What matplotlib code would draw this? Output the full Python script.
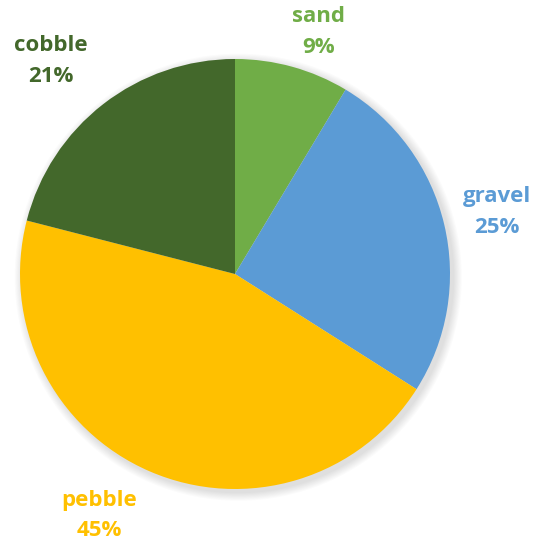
import numpy as np
import matplotlib.pyplot as plt
from matplotlib.patches import Circle

# sediment share by class (percent)
classes = ["sand", "gravel", "pebble", "cobble"]
shares = [8.6, 25.4, 45.0, 21.0]
colors = ["#70AD47", "#5B9BD5", "#FFC000", "#43682B"]
# label placement: distance (radii) and angle shift from slice middle (deg)
label_dist = [1.19, 1.25, 1.29, 1.31]
label_shift = [-3.5, 0.0, -6.0, 3.0]

plt.rcParams['font.family'] = ['Open Sans', 'DejaVu Sans']

fig = plt.figure(figsize=(5.36, 5.5), dpi=100)
ax = fig.add_axes([20 / 536, 61 / 550, 430 / 536, 430 / 550])

# soft shadow round the pie
for i in range(8):
	ax.add_patch(Circle((0.015, -0.015), 1.0 + 0.005 * (i + 1), color="black",
		alpha=0.014, lw=0, zorder=0, clip_on=False))

wedges, _ = ax.pie(shares, colors=colors, startangle=90, counterclock=False,
	radius=1.0, wedgeprops=dict(linewidth=0))

total = sum(shares)
for w, name, val, col, d, s in zip(wedges, classes, shares, colors, label_dist, label_shift):
	w.set_zorder(2)
	w.set_clip_on(False)
	mid = np.deg2rad((w.theta1 + w.theta2) / 2 + s)
	ax.text(d * np.cos(mid), d * np.sin(mid), f"{name}\n{val / total * 100:.0f}%",
		ha="center", va="center", color=col, fontsize=16, fontweight="bold",
		linespacing=1.6, clip_on=False)

ax.set_xlim(-1, 1)
ax.set_ylim(-1, 1)
ax.set_aspect("equal")
ax.axis("off")

fig.savefig("out.png", dpi=100)
